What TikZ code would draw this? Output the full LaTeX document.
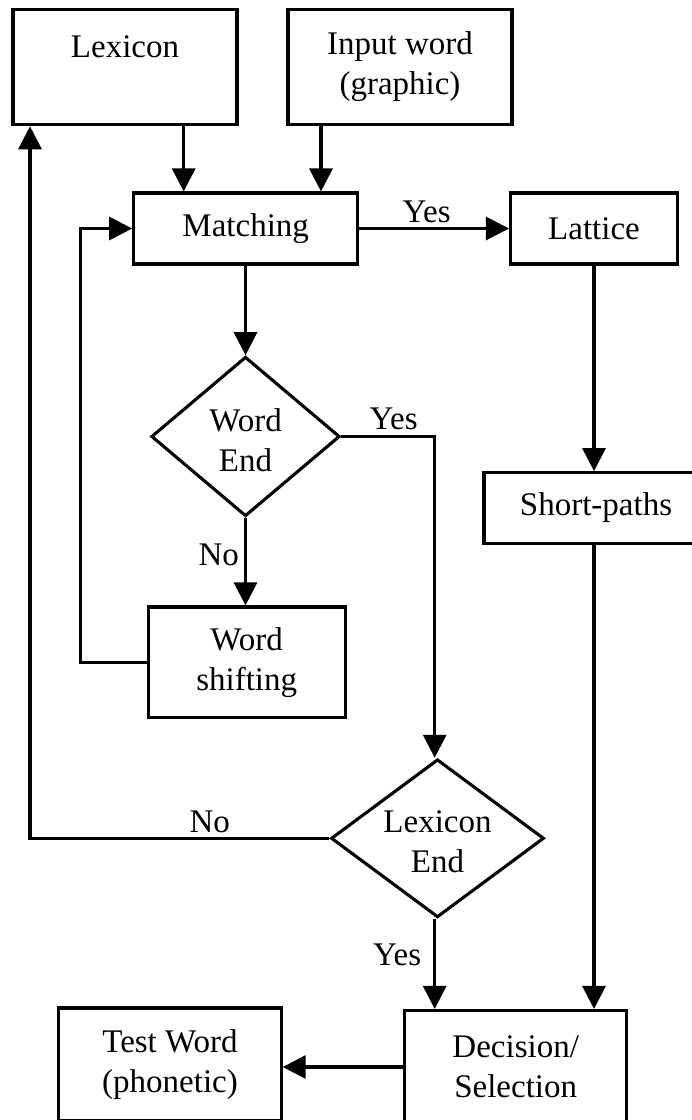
\documentclass[tikz,border=0pt]{standalone}
\usepackage{fontspec}
\setmainfont{Liberation Serif}
\usetikzlibrary{arrows.meta,shapes.geometric}
\tikzset{
  box/.style={draw, rectangle, line width=3.1pt, inner sep=0pt, align=center,
              font=\fontsize{33}{40}\selectfont},
  dia/.style={draw, diamond, line width=3.1pt, inner sep=0pt},
  txt/.style={inner sep=0pt, align=center, font=\fontsize{33}{40}\selectfont},
  lbl/.style={inner sep=0pt, font=\fontsize{33}{40}\selectfont},
  arr/.style={line width=3.1pt, -{Triangle[length=23pt,width=23pt]}},
  ln/.style={line width=3.1pt}
}
\begin{document}
\begin{tikzpicture}[x=1pt,y=-1pt]
\useasboundingbox (0,0) rectangle (692,1120);
\clip (0,0) rectangle (692,1120);
% boxes
\node[box, minimum width=224pt, minimum height=115.5pt] (lex) at (125,67) {Lexicon\\\mbox{}};
\node[box, minimum width=224pt, minimum height=115.5pt] (inp) at (400,67) {Input word\\(graphic)};
\node[box, minimum width=224pt, minimum height=71pt] (mat) at (245.7,228.5) {Matching};
\node[box, minimum width=167pt, minimum height=71pt] (lat) at (594,228.5) {Lattice};
\node[dia, minimum width=188.5pt, minimum height=159.5pt] (we) at (245.5,436.5) {};
\node[txt] (wet) at (245.5,440) {Word\\End};
\node[box, minimum width=224pt, minimum height=70.6pt] (sp) at (596,508) {Short-paths};
\node[box, minimum width=196.7pt, minimum height=110.7pt] (ws) at (246.7,662.3) {Word\\shifting};
\node[dia, minimum width=213pt, minimum height=158pt] (le) at (437.5,838.3) {};
\node[txt] (let) at (437.5,842) {Lexicon\\End};
\node[box, minimum width=222.3pt, minimum height=113pt] (tw) at (170,1064.5) {Test Word\\(phonetic)};
\node[box, minimum width=222pt, minimum height=113pt] (dec) at (515.7,1067) {Decision/\\Selection};
% connectors
\draw[arr] ([xshift=-62pt]mat.north |- lex.south) -- ([xshift=-62pt]mat.north);
\draw[arr] ([xshift=75.3pt]mat.north |- inp.south) -- ([xshift=75.3pt]mat.north);
\draw[arr] (mat.east) -- node[lbl, above=4pt, pos=0.45] {Yes} (lat.west);
\draw[arr] (ws.west) -- ++(-66.3pt,0) |- (mat.west);
\draw[arr] (mat.south -| we.north) -- (we.north);
\draw[arr] (we.east) -| node[lbl, above=5pt, pos=0.28] {Yes} ([xshift=-2.8pt]le.north);
\draw[arr] (we.south) -- node[lbl, left=5pt, pos=0.42] {No} (ws.north -| we.south);
\draw[arr] (le.west) -| node[lbl, above=4pt, pos=0.2] {No} ([xshift=-95pt]lex.south);
\draw[arr] ([xshift=-2.8pt]le.south) -- node[lbl, left=12pt, pos=0.4] {Yes} ([xshift=-2.8pt]le.south |- dec.north);
\draw[arr] (lat.south) -- (lat.south |- sp.north);
\draw[arr] (sp.south -| lat.south) -- (lat.south |- dec.north);
\draw[arr] (dec.west) -- (dec.west -| tw.east);
\end{tikzpicture}
\end{document}
